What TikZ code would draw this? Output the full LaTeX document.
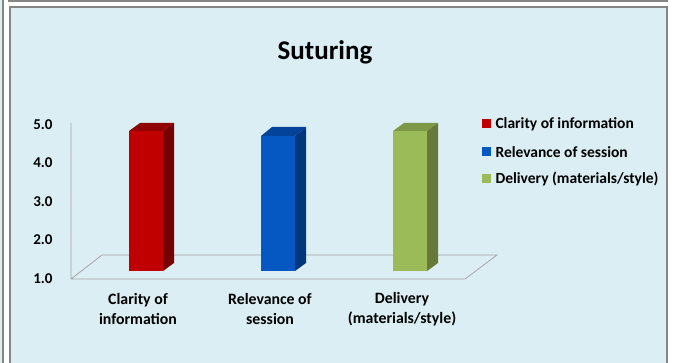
\documentclass[tikz,border=0pt]{standalone}
\usepackage{fontspec}
\setmainfont{Carlito}
\usepackage{xcolor}
\usepackage{tikz}
\usetikzlibrary{positioning}

\definecolor{chartbg}{HTML}{DAEEF3}
\definecolor{framegray}{HTML}{858585}
\definecolor{floorgray}{HTML}{A6A6A6}
\definecolor{redfront}{HTML}{C00000}
\definecolor{redtop}{HTML}{900000}
\definecolor{redside}{HTML}{760000}
\definecolor{bluefront}{HTML}{0557C2}
\definecolor{bluetop}{HTML}{03449A}
\definecolor{blueside}{HTML}{02377C}
\definecolor{greenfront}{HTML}{9BBB59}
\definecolor{greentop}{HTML}{7D9846}
\definecolor{greenside}{HTML}{66793A}

\begin{document}
\begin{tikzpicture}[
        x=1pt, y=-1pt,
        frame/.style={draw=framegray, line width=2pt},
        title/.style={font=\bfseries\fontsize{27}{31}\selectfont},
        tick/.style={anchor=east, font=\bfseries\fontsize{15}{18}\selectfont},
        category/.style={align=center, font=\bfseries\fontsize{15.8}{20}\selectfont},
        legend/.style={anchor=west, font=\bfseries\fontsize{15.5}{18}\selectfont},
        swatch/.style={minimum size=9pt, inner sep=0pt},
        floor/.style={draw=floorgray, line width=0.8pt}
    ]
        \useasboundingbox (0,0) rectangle (674,363);

        % Neighbouring boxes
        \fill[chartbg] (0,-5) rectangle (2.5,370);
        \draw[frame] (2.5,-5) -- (2.5,370);
        \draw[frame] (9,-5) -- (9,1) -- (667,1) -- (667,-5);

        % Chart area
        \draw[frame, fill=chartbg] (10,7) rectangle (667,370);

        % Title
        \node[title] (title) at (325,52) {Suturing};

        % Floor and axis
        \draw[floor] (71,123) -- (71,279) -- (465,279) -- (497,255) -- (102,255) -- (71,279);

        % Axis labels
        \node[tick] (t5) at (56,125) {5.0};
        \node[tick] (t4) at (56,163) {4.0};
        \node[tick] (t3) at (56,202) {3.0};
        \node[tick] (t2) at (56,240) {2.0};
        \node[tick] (t1) at (56,279) {1.0};

        % Bars
        \fill[redtop] (129,131) -- (140,123) -- (174,123) -- (163,131) -- cycle;
        \fill[redside] (163,131) -- (174,123) -- (174,263) -- (163,271) -- cycle;
        \fill[redfront] (129,131) rectangle (163,271);

        \fill[bluetop] (261,136) -- (272,127) -- (306,127) -- (295,136) -- cycle;
        \fill[blueside] (295,136) -- (306,127) -- (306,263) -- (295,271) -- cycle;
        \fill[bluefront] (261,136) rectangle (295,271);

        \fill[greentop] (393,131) -- (404,123) -- (438,123) -- (427,131) -- cycle;
        \fill[greenside] (427,131) -- (438,123) -- (438,263) -- (427,271) -- cycle;
        \fill[greenfront] (393,131) rectangle (427,271);

        % Category labels
        \node[category] (clarity) at (138,309) {Clarity of\\information};
        \node[category] (relevance) at (270,309) {Relevance of\\session};
        \node[category] (delivery) at (402,309) {Delivery\\(materials/style)};

        % Legend
        \node[swatch, fill=redfront] (key1) at (486,124) {};
        \node[swatch, fill=bluefront] (key2) at (486,152) {};
        \node[swatch, fill=greenfront] (key3) at (486,179) {};
        \node[legend] (lab1) at (492,124) {Clarity of information};
        \node[legend] (lab2) at (492,152) {Relevance of session};
        \node[legend] (lab3) at (492,179) {Delivery (materials/style)};
    \end{tikzpicture}
\end{document}
